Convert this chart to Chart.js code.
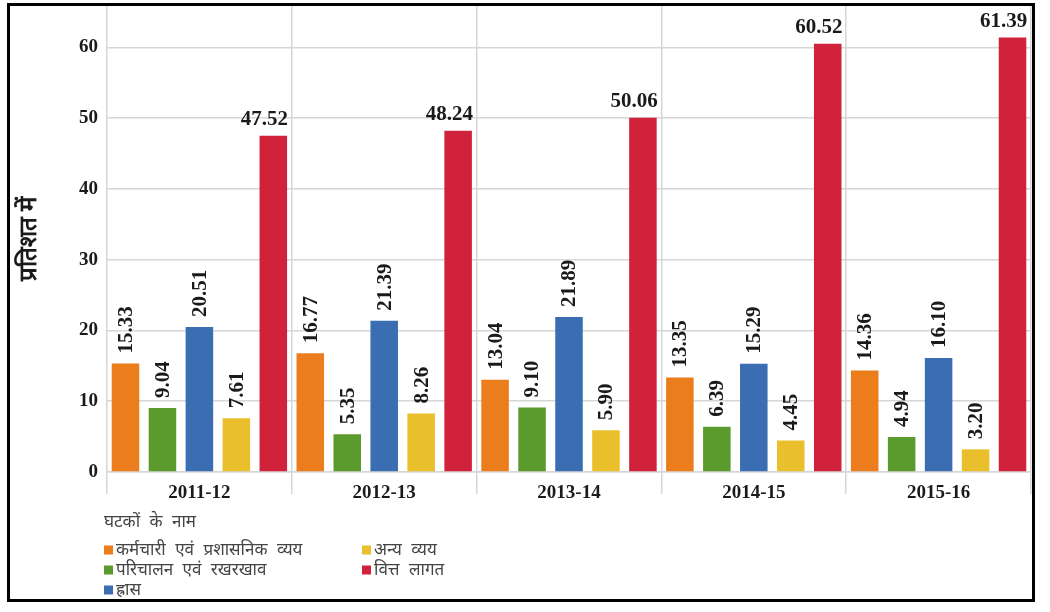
<!DOCTYPE html>
<html>
<head>
<meta charset="utf-8">
<script src="https://cdn.jsdelivr.net/npm/chart.js@4.4.1/dist/chart.umd.min.js"></script>
<style>
  html, body { margin: 0; padding: 0; background: #fff; }
  #wrap { width: 1050px; height: 612px; }
</style>
</head>
<body>
<div id="wrap"><canvas id="myChart" width="1050" height="612"></canvas></div>
<script>
// Vitta varsh (financial years)
var years = ['2011-12', '2012-13', '2013-14', '2014-15', '2015-16'];

// Ghatak-vaar pratishat
var karmchariVyay = [15.33, 16.77, 13.04, 13.35, 14.36];
var parichalan = [9.04, 5.35, 9.10, 6.39, 4.94];
var hraas = [20.51, 21.39, 21.89, 15.29, 16.10];
var anyaVyay = [7.61, 8.26, 5.90, 4.45, 3.20];
var vittLagat = [47.52, 48.24, 50.06, 60.52, 61.39];

var seriesNames = ['कर्मचारी एवं प्रशासनिक व्यय', 'परिचालन एवं रखरखाव', 'ह्रास', 'अन्य व्यय', 'वित्त लागत'];
var seriesColors = ['#ec7d1d', '#5b9a2c', '#3a6db1', '#e9c02b', '#d1223b'];
var yTicks = [0, 10, 20, 30, 40, 50, 60];

var serif = "'Liberation Serif', 'DejaVu Serif', serif";

var seriesValues = [karmchariVyay, parichalan, hraas, anyaVyay, vittLagat];
var datasets = seriesValues.map(function (vals, i) {
    return {
        label: seriesNames[i],
        data: vals,
        backgroundColor: seriesColors[i],
        borderWidth: 0,
        categoryPercentage: 1.0,
        barPercentage: 0.745
    };
});

// Value labels: vertical for the small bars, flat for vitt lagat
var valueLabels = {
    id: 'valueLabels',
    afterDatasetsDraw: function (chart) {
        var ctx = chart.ctx;
        ctx.save();
        ctx.fillStyle = '#1a1a1a';
        ctx.font = 'bold 21px ' + serif;
        chart.data.datasets.forEach(function (ds, di) {
            var meta = chart.getDatasetMeta(di);
            meta.data.forEach(function (bar, i) {
                var txt = ds.data[i].toFixed(2);
                if (di === 4) {
                    ctx.textAlign = 'right';
                    ctx.textBaseline = 'bottom';
                    ctx.fillText(txt, bar.x + bar.width / 2 + 1, bar.y - 6);
                } else {
                    ctx.save();
                    ctx.translate(bar.x + 1, bar.y - 10);
                    ctx.rotate(-Math.PI / 2);
                    ctx.textAlign = 'left';
                    ctx.textBaseline = 'middle';
                    ctx.fillText(txt, 0, 0);
                    ctx.restore();
                }
            });
        });
        ctx.restore();
    }
};

// Legend in two columns under the axis, plus the outer frame
var sideLegend = {
    id: 'sideLegend',
    afterDraw: function (chart) {
        var ctx = chart.ctx;
        ctx.save();
        ctx.fillStyle = '#444';
        ctx.font = "17px 'Noto Sans', sans-serif";
        ctx.wordSpacing = '5px';
        ctx.textAlign = 'left';
        ctx.textBaseline = 'middle';
        ctx.fillText('घटकों के नाम', 104, 522);
        chart.data.datasets.forEach(function (ds, i) {
            var col = Math.floor(i / 3), row = i % 3;
            var x = col === 0 ? 104 : 362;
            var y = 550 + row * 20;
            ctx.fillStyle = ds.backgroundColor;
            ctx.fillRect(x, y - 4.5, 9, 9);
            ctx.fillStyle = '#444';
            ctx.fillText(ds.label, x + 12, y);
        });
        ctx.strokeStyle = '#000';
        ctx.lineWidth = 3;
        ctx.strokeRect(8.5, 4.5, 1025, 596);
        ctx.restore();
    }
};

var config = {
    type: 'bar',
    data: { labels: years, datasets: datasets },
    options: {
        responsive: false,
        animation: false,
        layout: { padding: { left: 7, right: 19, top: 5, bottom: 100 } },
        plugins: {
            legend: { display: false },
            tooltip: { enabled: false }
        },
        scales: {
            x: {
                offset: true,
                grid: { offset: true, color: '#d6d6d6', lineWidth: 1.5, tickLength: 22 },
                border: { color: '#d6d6d6', width: 1.5 },
                ticks: { color: '#1a1a1a', font: { family: serif, size: 19, weight: 'bold' }, padding: -12 },
                afterFit: function (s) { s.height = 40; }
            },
            y: {
                min: 0,
                max: 66,
                afterBuildTicks: function (s) {
                    s.ticks = yTicks.map(function (v) { return { value: v }; });
                },
                grid: { color: '#d6d6d6', lineWidth: 1.5, drawTicks: false },
                border: { display: false },
                ticks: { color: '#1a1a1a', font: { family: serif, size: 19, weight: 'bold' }, padding: 9 },
                title: {
                    display: true,
                    text: 'प्रतिशत में',
                    color: '#1a1a1a',
                    font: { family: serif, size: 24, weight: 'bold' },
                    padding: { top: 8, bottom: 0 }
                },
                afterFit: function (s) {
                    s.width = 100;
                    s.paddingTop = 0;
                    s.paddingBottom = 0;
                }
            }
        }
    },
    plugins: [valueLabels, sideLegend]
};

var ctx = document.getElementById('myChart').getContext('2d');
var myChart = new Chart(ctx, config);
</script>
</body>
</html>
